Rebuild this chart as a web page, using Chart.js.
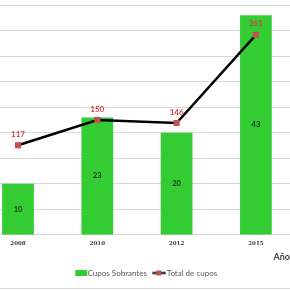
<!DOCTYPE html>
<html>
<head>
<meta charset="utf-8">
<script src="https://cdn.jsdelivr.net/npm/chart.js@4/dist/chart.umd.min.js"></script>
<style>
  html, body { margin: 0; padding: 0; background: #fff; }
  #wrap { position: relative; width: 290px; height: 290px; overflow: hidden; }
  #c { position: absolute; left: 0; top: 0; }
  #rule { position: absolute; left: 0; top: 288px; width: 290px; height: 1px; background: #dcdcdc; }
</style>
</head>
<body>
<div id="wrap">
  <canvas id="c" width="290" height="290"></canvas>
  <div id="rule"></div>
</div>
<script>
const categories = ['2008', '2010', '2012', '2015'];
const cuposSobrantes = [10, 23, 20, 43];
const totalCupos = [117, 150, 146, 261];
const seriesNames = ['Cupos Sobrantes', 'Total de cupos'];
const axisTitle = 'Año';

const GREEN = '#33cc33';
const RED = '#c55050';
const LABEL_RED = '#cc4444';

function legendIconBar() {
  const cv = document.createElement('canvas');
  cv.width = 24; cv.height = 6;
  const g = cv.getContext('2d');
  g.fillStyle = GREEN; g.fillRect(9, 0, 12, 6);
  return cv;
}
function legendIconLine() {
  const cv = document.createElement('canvas');
  cv.width = 24; cv.height = 7;
  const g = cv.getContext('2d');
  g.strokeStyle = '#000'; g.lineWidth = 2;
  g.beginPath(); g.moveTo(7, 3.5); g.lineTo(20.5, 3.5); g.stroke();
  g.fillStyle = RED; g.fillRect(11, 1, 5, 5);
  return cv;
}

const labelPlugin = {
  id: 'valueLabels',
  afterDatasetsDraw(chart) {
    const ctx = chart.ctx;
    ctx.save();
    ctx.textAlign = 'center';
    ctx.textBaseline = 'middle';
    const barMeta = chart.getDatasetMeta(0);
    ctx.font = 'bold 7.5px Lato, "Liberation Sans", sans-serif';
    ctx.fillStyle = '#1e331e';
    barMeta.data.forEach((el, i) => {
      ctx.fillText(String(cuposSobrantes[i]), el.x, (el.y + el.base) / 2);
    });
    const lineMeta = chart.getDatasetMeta(1);
    ctx.font = 'bold 8px Lato, "Liberation Sans", sans-serif';
    ctx.fillStyle = LABEL_RED;
    lineMeta.data.forEach((el, i) => {
      ctx.fillText(String(totalCupos[i]), el.x, el.y - 11);
    });
    ctx.restore();
  }
};

const xMin = -18 / 79.3;
const xMax = xMin + 290 / 79.3;

new Chart(document.getElementById('c'), {
  data: {
    datasets: [
      {
        type: 'bar',
        label: seriesNames[0],
        data: categories.map((c, i) => ({ x: i, y: cuposSobrantes[i] })),
        backgroundColor: GREEN,
        borderWidth: 0,
        categoryPercentage: 1,
        barPercentage: 0.4,
        yAxisID: 'y',
        order: 2
      },
      {
        type: 'line',
        label: seriesNames[1],
        data: categories.map((c, i) => ({ x: i, y: totalCupos[i] })),
        borderColor: '#000',
        borderWidth: 2.5,
        pointStyle: 'rect',
        pointRadius: 4.3,
        pointBackgroundColor: RED,
        pointBorderColor: RED,
        pointBorderWidth: 0,
        tension: 0,
        yAxisID: 'y1',
        order: 1
      }
    ]
  },
  options: {
    responsive: false,
    animation: false,
    devicePixelRatio: 1,
    layout: { autoPadding: false, padding: { top: 5, left: 0, right: 0, bottom: 3 } },
    plugins: {
      tooltip: { enabled: false },
      legend: {
        position: 'bottom',
        labels: {
          usePointStyle: true,
          pointStyleWidth: 10.7,
          padding: 4,
          color: '#595959',
          font: { family: 'Lato, "Liberation Sans", sans-serif', size: 8 },
          generateLabels() {
            return [
              { text: seriesNames[0] + '\u2009', pointStyle: legendIconBar(), datasetIndex: 0, fontColor: '#595959', lineWidth: 0 },
              { text: seriesNames[1], pointStyle: legendIconLine(), datasetIndex: 1, fontColor: '#595959', lineWidth: 0 }
            ];
          }
        }
      }
    },
    scales: {
      x: {
        type: 'linear',
        offset: false,
        min: xMin,
        max: xMax,
        afterBuildTicks(scale) { scale.ticks = categories.map((c, i) => ({ value: i })); },
        grid: { display: false, drawTicks: false, offset: false },
        border: { display: false },
        ticks: {
          autoSkip: false,
          maxRotation: 0,
          padding: 6,
          color: '#404040',
          font: { family: '"DejaVu Serif", serif', size: 5.5, weight: 'bold', lineHeight: 1 },
          callback: (v) => categories[v] ?? ''
        },
        title: {
          display: true,
          text: axisTitle,
          align: 'end',
          color: '#404040',
          font: { family: 'Lato, "Liberation Sans", sans-serif', size: 9, weight: 'bold', lineHeight: 1 },
          padding: { top: 0, bottom: 3.6 }
        }
      },
      y: {
        position: 'left',
        min: 0,
        max: 45,
        ticks: { display: false, stepSize: 5 },
        grid: { color: '#d9d9d9', lineWidth: 1, drawTicks: false },
        border: { display: false }
      },
      y1: {
        position: 'right',
        min: 0,
        max: 300,
        display: false,
        grid: { display: false }
      }
    }
  },
  plugins: [labelPlugin]
});
</script>
</body>
</html>
